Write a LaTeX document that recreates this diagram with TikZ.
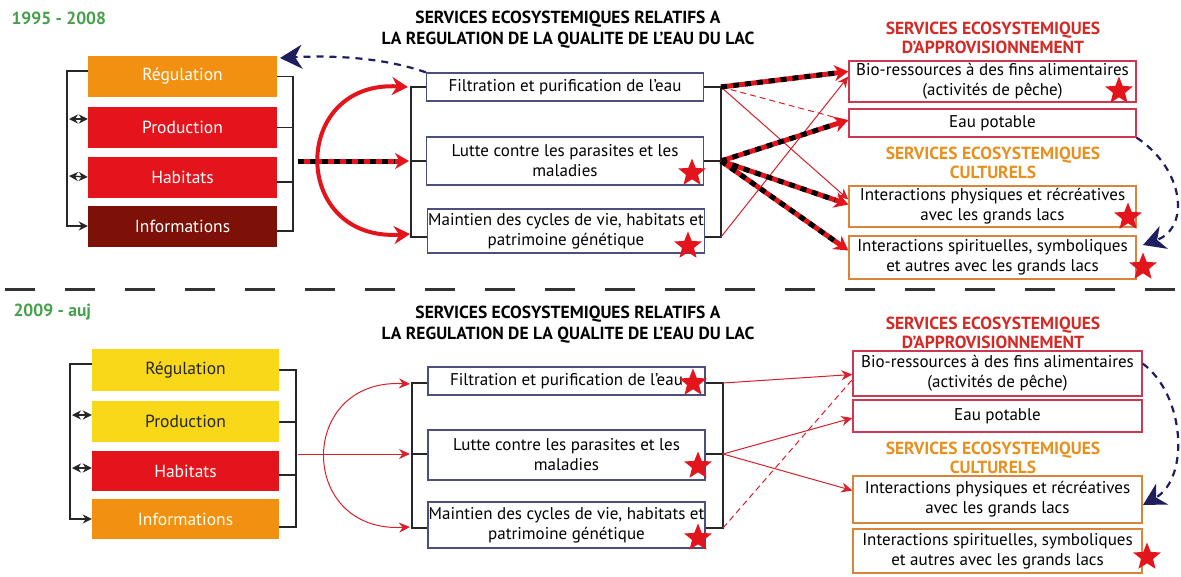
\documentclass[tikz,border=0pt]{standalone}
\usepackage{fontspec}
\setmainfont{PT Sans}
\usetikzlibrary{arrows.meta,shapes.geometric,calc}
\definecolor{yeargreen}{HTML}{46A049}
\definecolor{corange}{HTML}{F29111}
\definecolor{cred}{HTML}{E3141C}
\definecolor{cdark}{HTML}{7D1007}
\definecolor{cyellow}{HTML}{F8D818}
\definecolor{midborder}{HTML}{4C4F7C}
\definecolor{provborder}{HTML}{C93A52}
\definecolor{cultborder}{HTML}{D8843A}
\definecolor{provtitle}{HTML}{D42A26}
\definecolor{culttitle}{HTML}{E8901E}
\definecolor{navy}{HTML}{1E1E5E}
\definecolor{linered}{HTML}{D8202A}
\definecolor{starred}{HTML}{E3141C}
\newcommand{\thickdash}[2]{%
  \draw[line width=5pt, draw=cred, -{Stealth[length=14pt,width=16pt,fill=cred]}] #1 -- #2;
  \draw[line width=5pt, draw=black, dash pattern=on 6pt off 6pt, shorten >=14pt] #1 -- #2;}
\begin{document}
\begin{tikzpicture}[x=1pt,y=-1pt,
  every node/.style={font=\fontsize{17}{20}\selectfont},
  catbox/.style={rectangle, inner sep=0pt, minimum width=189pt, minimum height=41pt, text=white, font=\fontsize{17.5}{20}\selectfont},
  midbox/.style={draw=midborder, line width=1.3pt, fill=white, inner sep=0pt, minimum width=277pt, align=center, font=\fontsize{17}{20}\selectfont},
  provbox/.style={draw=provborder, line width=1.3pt, fill=white, inner sep=0pt, minimum width=287pt, align=center, font=\fontsize{17}{20}\selectfont},
  cultbox/.style={draw=cultborder, line width=1.3pt, fill=white, inner sep=0pt, minimum width=287pt, align=center, font=\fontsize{17}{20}\selectfont},
  bk/.style={draw=black!85, line width=1.4pt},
  rstar/.style={star, star points=5, star point ratio=2.3, fill=starred, minimum size=29pt, inner sep=0pt},
  titletxt/.style={font=\bfseries\fontsize{17.5}{21}\selectfont, align=center},
  provhdr/.style={font=\bfseries\fontsize{17.5}{19}\selectfont, align=center, text=provtitle},
  culthdr/.style={font=\bfseries\fontsize{17.5}{19}\selectfont, align=center, text=culttitle},
  yearlbl/.style={font=\bfseries\fontsize{17.5}{18}\selectfont, text=yeargreen, anchor=west},
  thinred/.style={draw=linered, line width=1pt, -{Stealth[length=11pt,width=10pt]}},
  thindash/.style={draw=linered, line width=1pt, dash pattern=on 6pt off 4pt},
  bigred/.style={draw=cred, line width=4pt, {Stealth[length=16pt,width=18pt]}-{Stealth[length=16pt,width=18pt]}},
  navydash/.style={draw=navy, line width=2.2pt, dash pattern=on 7pt off 6pt, -{Stealth[length=22pt,width=24pt,inset=7pt]}},
  divider/.style={draw=black!80, line width=3pt, dash pattern=on 30pt off 30pt, dash phase=-5pt},
  blktip/.style={-{Stealth[length=9pt,width=9pt]}}
]
\useasboundingbox[fill=white] (0,0) rectangle (1181,576);

% ================= TOP PANEL =================
\node[yearlbl] (y1) at (8,18) {1995 - 2008};
\node[titletxt] (t1) at (568,30) {SERVICES ECOSYSTEMIQUES RELATIFS A\\LA REGULATION DE LA QUALITE DE L’EAU DU LAC};

\node[catbox, fill=corange] (reg1) at (182.5,76.5) {Régulation};
\node[catbox, fill=cred] (prod1) at (182.5,127.5) {Production};
\node[catbox, fill=cred] (hab1) at (182.5,177) {Habitats};
\node[catbox, fill=cdark] (info1) at (182.5,226) {Informations};

\node[midbox, minimum height=28pt] (fil1) at (565,87) {Filtration et purification de l’eau};
\node[midbox, minimum height=48pt] (lut1) at (565,161) {Lutte contre les parasites et les\\maladies};
\node[midbox, minimum height=44pt] (mai1) at (566,231) {Maintien des cycles de vie, habitats et\\patrimoine génétique};

\node[provhdr] (ph1) at (993,37.5) {SERVICES ECOSYSTEMIQUES\\D’APPROVISIONNEMENT};
\node[provbox, minimum height=41pt] (bio1) at (992.5,81.5) {Bio-ressources à des fins alimentaires\\(activités de pêche)};
\node[provbox, minimum height=28pt] (eau1) at (992.5,123) {Eau potable};
\node[culthdr] (ch1) at (993,162.5) {SERVICES ECOSYSTEMIQUES\\CULTURELS};
\node[cultbox, minimum height=41pt] (phy1) at (992.5,206.5) {Interactions physiques et récréatives\\avec les grands lacs};
\node[cultbox, minimum height=43pt] (spi1) at (992.5,257.5) {Interactions spirituelles, symboliques\\et autres avec les grands lacs};

% left bracket
\draw[bk, blktip] ([yshift=5.5pt]reg1.west) -- (67,71) -- (67,226) -- (info1.west);
\draw[bk, {Stealth[length=9pt,width=9pt]}-{Stealth[length=9pt,width=9pt]}] (69,119) -- ([yshift=8.5pt]prod1.west);
\draw[bk, {Stealth[length=9pt,width=9pt]}-{Stealth[length=9pt,width=9pt]}] (69,176) -- (hab1.west);
% right bracket of categories
\draw[bk] (reg1.east) -- (293,76.5) -- (293,231) -- ([yshift=-5pt]info1.east);
\draw[bk] (prod1.east) -- (293,127.5);
\draw[bk] ([yshift=-5pt]hab1.east) -- (293,182);
% middle brackets
\coordinate (L1) at (411,161);
\draw[bk] (fil1.west) -- (411,87) -- (411,237) -- ([yshift=-6pt]mai1.west);
\draw[bk] (lut1.west) -- (L1);
\coordinate (R1a) at (721,87);
\coordinate (R1b) at (721,161);
\coordinate (R1c) at (721,237);
\draw[bk] (fil1.east) -- (R1a) -- (R1c) -- ([yshift=-6pt]mai1.east);
\draw[bk] (lut1.east) -- (R1b);

% arrows into middle
\coordinate (H1) at (298,161);
\coordinate (L1t) at (409,161);
\thickdash{(H1)}{(L1t)}
\coordinate (C1a) at (408,87);
\coordinate (C1b) at (410,234);
\draw[bigred] (C1a) .. controls (290,80) and (290,242) .. (C1b);

% arrows to the right
\draw[thindash] (R1a) -- ([yshift=2pt]eau1.west);
\draw[thinred] (R1a) -- ([yshift=7pt]phy1.west);
\draw[thinred] (R1c) -- ([yshift=5pt]bio1.west);
\thickdash{(R1a)}{([yshift=10pt]bio1.west)}
\thickdash{(R1b)}{([yshift=3pt]eau1.west)}
\thickdash{(R1b)}{([yshift=2pt]phy1.west)}
\thickdash{(R1b)}{([yshift=7pt]spi1.west)}

% navy arrows
\coordinate (N1) at (280,58);
\draw[navydash] (fil1.north west) .. controls (385,58) and (335,55) .. (N1);
\coordinate (N2) at (1143,245);
\draw[navydash] (eau1.south east) .. controls (1185,170) and (1190,228) .. (N2);

% stars
\node[rstar] (s1) at (692,173) {};
\node[rstar] (s2) at (688,246) {};
\node[rstar] (s3) at (1119,91) {};
\node[rstar] (s4) at (1128,217) {};
\node[rstar] (s5) at (1143,267) {};

% divider
\coordinate (D0) at (0,289);
\coordinate (D1) at (1181,289);
\draw[divider] (D0) -- (D1);

% ================= BOTTOM PANEL =================
\node[yearlbl] (y2) at (10,312) {2009 - auj};
\node[titletxt] (t2) at (568,325) {SERVICES ECOSYSTEMIQUES RELATIFS A\\LA REGULATION DE LA QUALITE DE L’EAU DU LAC};

\node[catbox, fill=cyellow, text=black!85, minimum width=187pt, minimum height=42pt] (reg2) at (185.5,370) {Régulation};
\node[catbox, fill=cyellow, text=black!85, minimum width=187pt] (prod2) at (185.5,421.5) {Production};
\node[catbox, fill=cred, minimum width=187pt, minimum height=40pt] (hab2) at (185.5,471) {Habitats};
\node[catbox, fill=corange, text=white!92!yellow, minimum width=187pt, minimum height=40pt] (info2) at (185.5,519) {Informations};

\node[midbox, minimum height=28pt] (fil2) at (566.5,381) {Filtration et purification de l’eau};
\node[midbox, minimum height=50pt] (lut2) at (566.5,455) {Lutte contre les parasites et les\\maladies};
\node[midbox, minimum height=46pt] (mai2) at (566.5,525) {Maintien des cycles de vie, habitats et\\patrimoine génétique};

\node[provhdr] (ph2) at (993,332.5) {SERVICES ECOSYSTEMIQUES\\D’APPROVISIONNEMENT};
\node[provbox, minimum width=289pt, minimum height=45pt] (bio2) at (997.5,373.5) {Bio-ressources à des fins alimentaires\\(activités de pêche)};
\node[provbox, minimum width=289pt, minimum height=32pt] (eau2) at (997.5,416) {Eau potable};
\node[culthdr] (ch2) at (993,457.5) {SERVICES ECOSYSTEMIQUES\\CULTURELS};
\node[cultbox, minimum width=289pt, minimum height=47pt] (phy2) at (997.5,499.5) {Interactions physiques et récréatives\\avec les grands lacs};
\node[cultbox, minimum width=289pt, minimum height=44pt] (spi2) at (997.5,551) {Interactions spirituelles, symboliques\\et autres avec les grands lacs};

% left bracket
\draw[bk, blktip] ([yshift=6pt]reg2.west) -- (70,364) -- (70,519) -- (info2.west);
\draw[bk, {Stealth[length=9pt,width=9pt]}-{Stealth[length=9pt,width=9pt]}] (72,415) -- ([yshift=6.5pt]prod2.west);
\draw[bk, {Stealth[length=9pt,width=9pt]}-{Stealth[length=9pt,width=9pt]}] (72,468) -- ([yshift=3pt]hab2.west);
% right bracket
\draw[bk] ([yshift=0pt]reg2.east) -- (296,370) -- (296,527) -- ([yshift=-8pt]info2.east);
\draw[bk] ([yshift=-0.5pt]prod2.east) -- (296,422);
\draw[bk] ([yshift=-4pt]hab2.east) -- (296,475);
% middle brackets
\coordinate (L2) at (412,454);
\draw[bk] ([yshift=-2pt]fil2.west) -- (412,383) -- (412,528) -- ([yshift=-3pt]mai2.west);
\draw[bk] ([yshift=1pt]lut2.west) -- (L2);
\coordinate (R2a) at (723,383);
\coordinate (R2b) at (723,454);
\coordinate (R2c) at (723,528);
\draw[bk] ([yshift=-2pt]fil2.east) -- (R2a) -- (R2c) -- ([yshift=-3pt]mai2.east);
\draw[bk] ([yshift=1pt]lut2.east) -- (R2b);

% arrows into middle
\coordinate (H2) at (298,454);
\coordinate (L2t) at (410,454);
\draw[thinred] (H2) -- (L2t);
\coordinate (C2a) at (410,384);
\coordinate (C2b) at (410,527);
\draw[thinred, {Stealth[length=11pt,width=10pt]}-{Stealth[length=11pt,width=10pt]}] (C2a) .. controls (297,378) and (297,533) .. (C2b);

% arrows to the right
\draw[thinred] (R2a) -- ([yshift=-1pt]bio2.west);
\draw[thinred] (R2b) -- ([yshift=-2pt]eau2.west);
\draw[thinred] (R2b) -- ([yshift=9pt]phy2.west);
\draw[thindash] (R2c) -- ([yshift=-6pt]bio2.west);

% navy arrow
\coordinate (N3) at (1143,505);
\draw[navydash] ([yshift=10pt]bio2.east) .. controls (1185,395) and (1190,478) .. (N3);

% stars
\node[rstar] (s6) at (693,383) {};
\node[rstar] (s7) at (698,466) {};
\node[rstar] (s8) at (698,538) {};
\node[rstar] (s9) at (1147,557) {};
\end{tikzpicture}
\end{document}
